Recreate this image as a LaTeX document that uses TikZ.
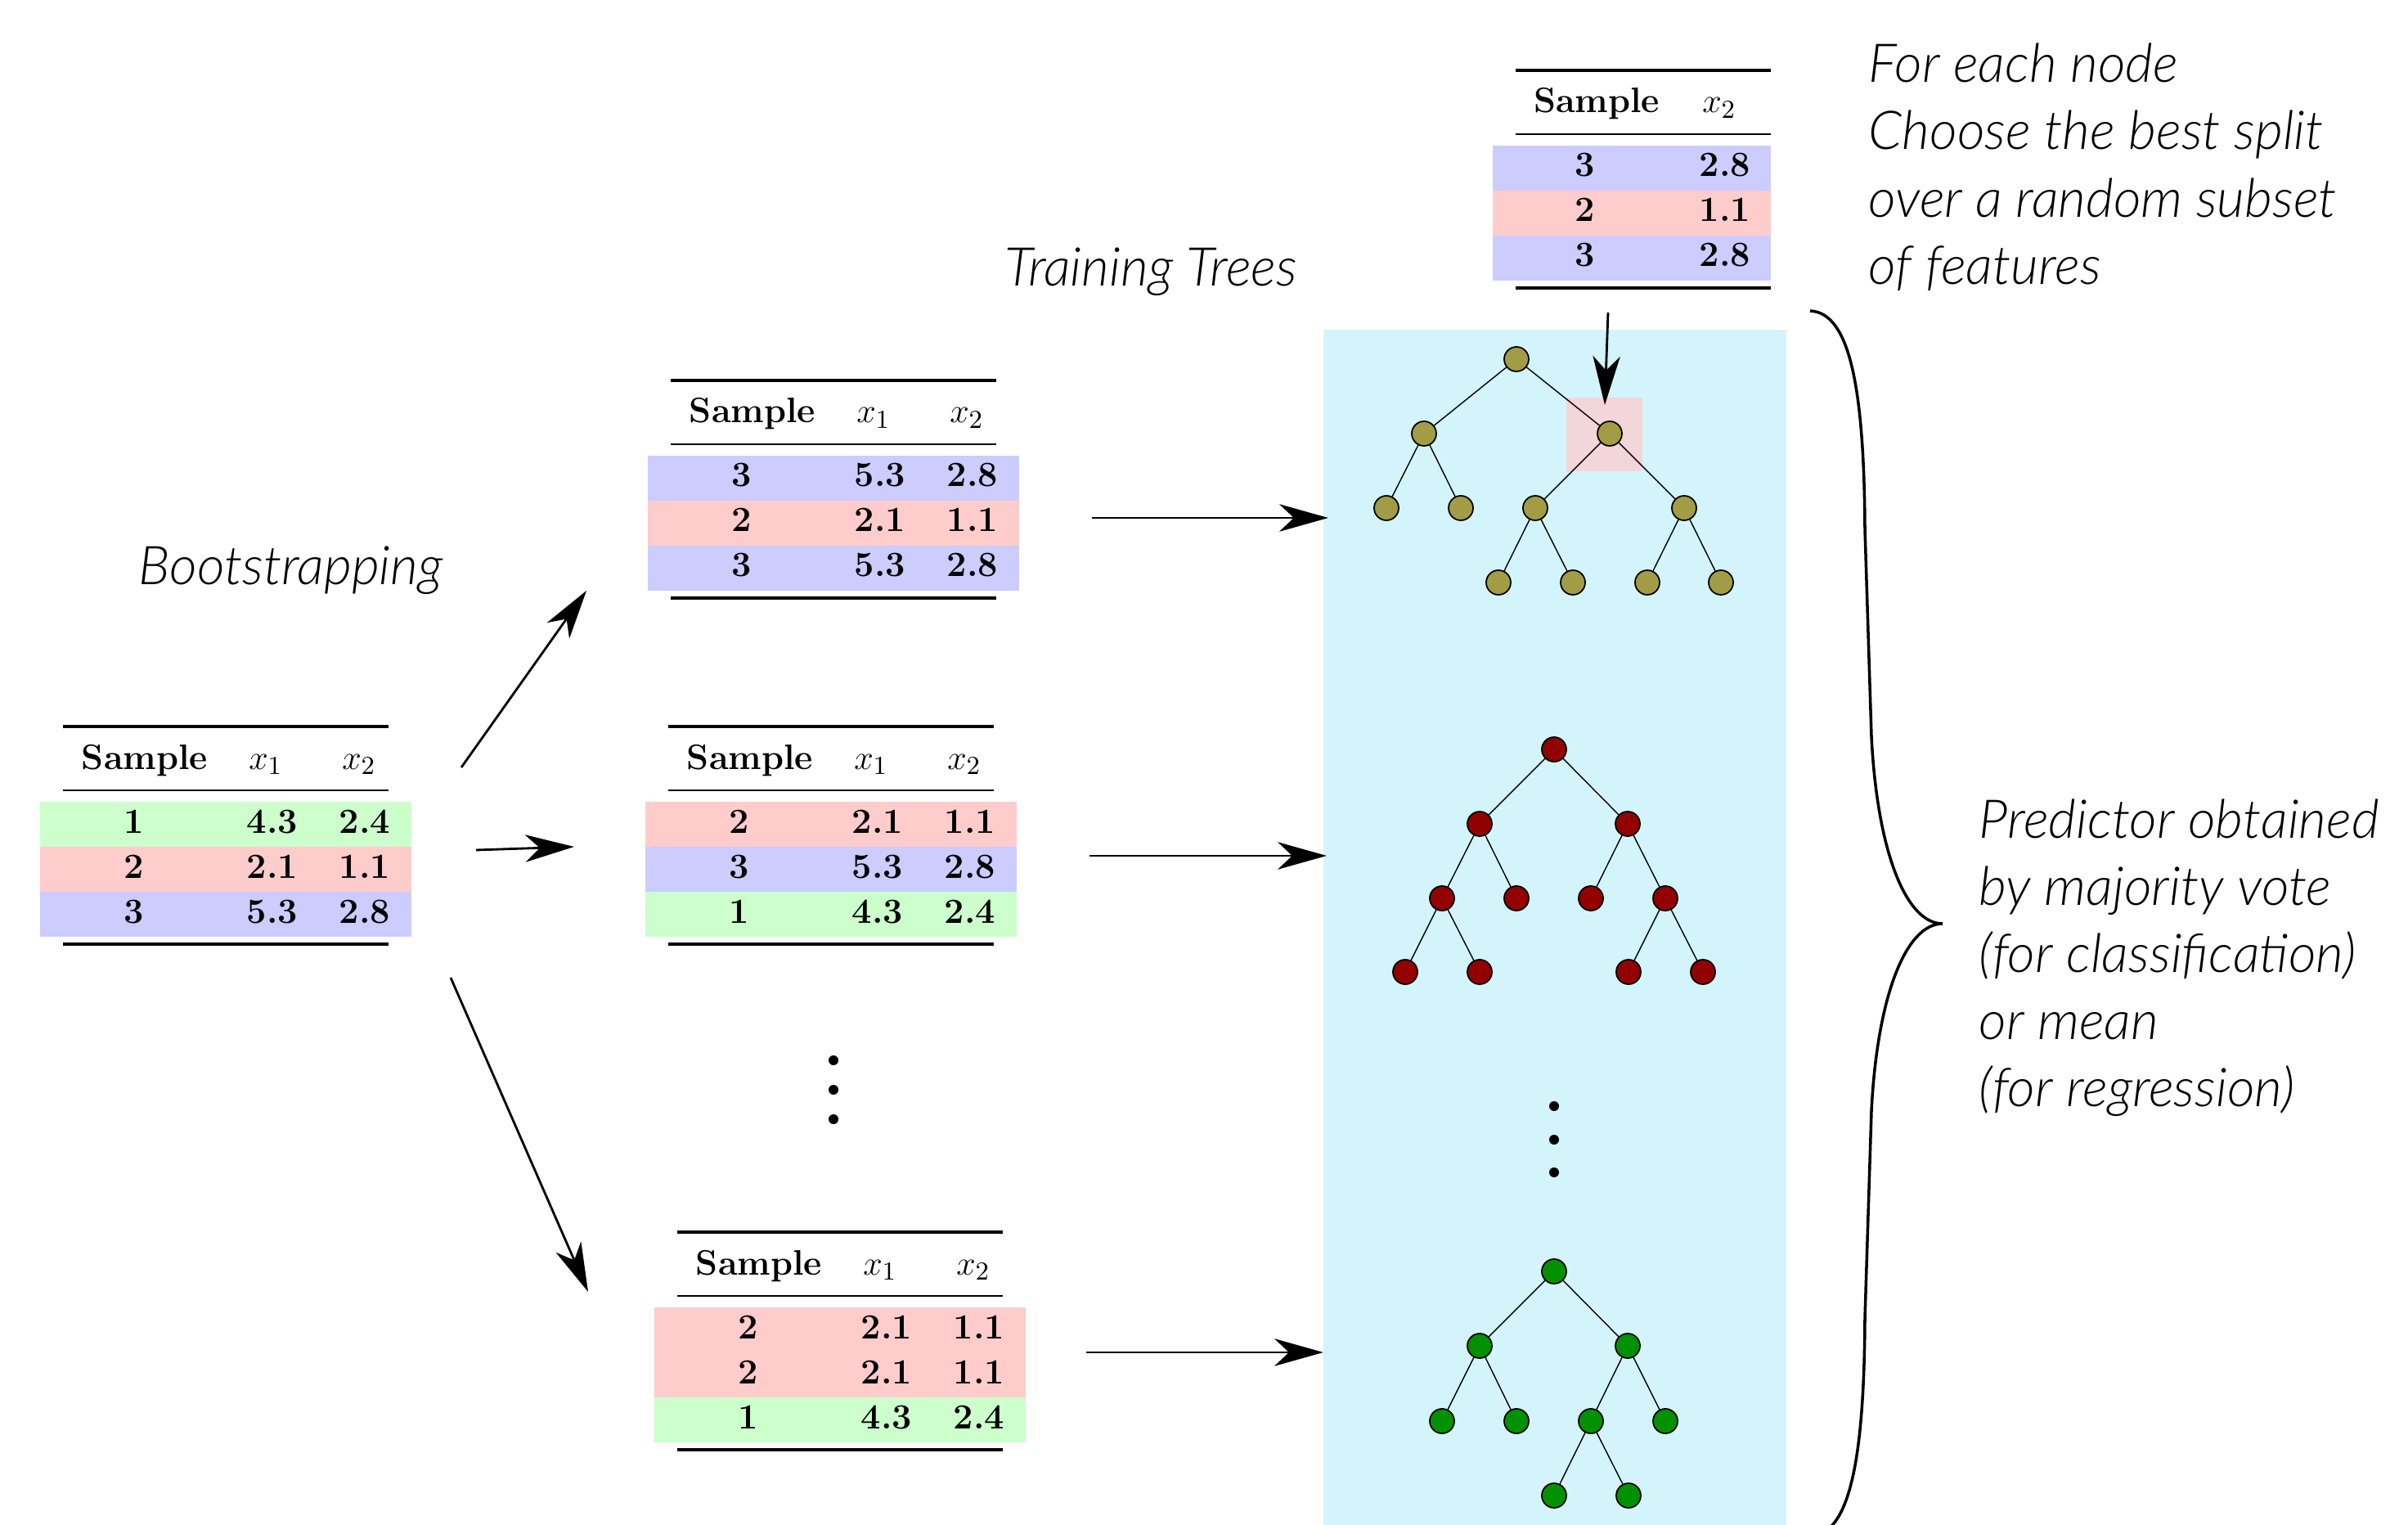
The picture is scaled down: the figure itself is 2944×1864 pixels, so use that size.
\documentclass[tikz,border=0pt]{standalone}
\usepackage{fontspec}
\newfontfamily\lato{Lato Light}[ItalicFont={Lato Light Italic}]
\usetikzlibrary{arrows.meta}
\definecolor{treebg}{RGB}{212,244,252}
\definecolor{hilite}{RGB}{243,214,217}
\definecolor{oliveT}{RGB}{162,156,68}
\definecolor{redT}{RGB}{147,0,0}
\definecolor{greenT}{RGB}{0,145,0}
\definecolor{rowG}{RGB}{204,255,204}
\definecolor{rowR}{RGB}{255,204,204}
\definecolor{rowB}{RGB}{204,204,255}
\tikzset{
 hd/.style={anchor=base, inner sep=0pt, font=\fontsize{12.3}{14}\selectfont\bfseries},
 cell/.style={anchor=base, inner sep=0pt, font=\fontsize{12.3}{14}\selectfont\bfseries},
 heavyrule/.style={line width=0.9pt},
 lightrule/.style={line width=0.55pt},
 lbl/.style={anchor=base west, inner sep=0pt, font=\fontsize{18.6}{22}\selectfont\lato\itshape},
 tn/.style={circle, draw=black, line width=0.5pt, minimum size=0.3cm, inner sep=0pt},
 tedge/.style={line width=0.4pt},
 arr/.style={line width=0.8pt, -{Stealth[length=17pt,width=9.5pt,inset=5pt]}},
 vdot/.style={circle, fill=black, minimum size=0.12cm, inner sep=0pt}
}
% frame of a table: top, mid and bottom rules
\newcommand{\tabframe}[1]{%
 \draw[heavyrule] (0,0) -- (#1,0);
 \draw[lightrule] (0,78) -- (#1,78);
 \draw[heavyrule] (0,266) -- (#1,266);
}
\newcommand{\headthree}[1]{%
 \node[hd] (#1-s) at (100,52) {Sample};
 \node[hd] (#1-x1) at (248,52) {$x_1$};
 \node[hd] (#1-x2) at (362,52) {$x_2$};
}
\newcommand{\rowthree}[6]{%
 \fill[#3] (-28,{92+55*#2}) rectangle (426,{147+55*#2});
 \node[cell] (#1-#2a) at (87,{130+55*#2}) {#4};
 \node[cell] (#1-#2b) at (256,{130+55*#2}) {#5};
 \node[cell] (#1-#2c) at (369,{130+55*#2}) {#6};
}
\newcommand{\rowtwo}[5]{%
 \fill[#3] (-28,{92+55*#2}) rectangle (312,{147+55*#2});
 \node[cell] (#1-#2a) at (85,{130+55*#2}) {#4};
 \node[cell] (#1-#2b) at (256,{130+55*#2}) {#5};
}
\begin{document}
\begin{tikzpicture}[x=0.01cm,y=-0.01cm]
\useasboundingbox (0,0) rectangle (2944,1864);
\clip (0,0) rectangle (2944,1864);
\fill[white] (0,0) rectangle (2944,1864);

% ---- tree panel
\fill[treebg] (1618,403) rectangle (2184,1870);
\fill[hilite] (1915,486) rectangle (2008,576);

% ---- tables
\begin{scope}[shift={(77,888)}]
 \tabframe{398}\headthree{T0}
 \rowthree{T0}{0}{rowG}{1}{4.3}{2.4}
 \rowthree{T0}{1}{rowR}{2}{2.1}{1.1}
 \rowthree{T0}{2}{rowB}{3}{5.3}{2.8}
\end{scope}
\begin{scope}[shift={(820,465)}]
 \tabframe{398}\headthree{TA}
 \rowthree{TA}{0}{rowB}{3}{5.3}{2.8}
 \rowthree{TA}{1}{rowR}{2}{2.1}{1.1}
 \rowthree{TA}{2}{rowB}{3}{5.3}{2.8}
\end{scope}
\begin{scope}[shift={(817,888)}]
 \tabframe{398}\headthree{TB}
 \rowthree{TB}{0}{rowR}{2}{2.1}{1.1}
 \rowthree{TB}{1}{rowB}{3}{5.3}{2.8}
 \rowthree{TB}{2}{rowG}{1}{4.3}{2.4}
\end{scope}
\begin{scope}[shift={(828,1506)}]
 \tabframe{398}\headthree{TC}
 \rowthree{TC}{0}{rowR}{2}{2.1}{1.1}
 \rowthree{TC}{1}{rowR}{2}{2.1}{1.1}
 \rowthree{TC}{2}{rowG}{1}{4.3}{2.4}
\end{scope}
\begin{scope}[shift={(1853,86)}]
 \tabframe{312}
 \node[hd] (TD-s) at (99,52) {Sample};
 \node[hd] (TD-x2) at (249,52) {$x_2$};
 \rowtwo{TD}{0}{rowB}{3}{2.8}
 \rowtwo{TD}{1}{rowR}{2}{1.1}
 \rowtwo{TD}{2}{rowB}{3}{2.8}
\end{scope}

% ---- vertical dots
\node[vdot] (d1) at (1019,1296) {};
\node[vdot] (d2) at (1019,1332) {};
\node[vdot] (d3) at (1019,1368) {};
\node[vdot] (e1) at (1900,1352) {};
\node[vdot] (e2) at (1900,1393) {};
\node[vdot] (e3) at (1900,1433) {};

% ---- tree 1 (olive)
\foreach \n/\x/\y in {a/1854/439, aL/1741/530, aR/1968/530,
  aLL/1695/621, aLR/1786/621, aRL/1877/621, aRR/2059/621,
  aRLL/1832/712, aRLR/1923/712, aRRL/2014/712, aRRR/2104/712}
  \node[tn, fill=oliveT] (\n) at (\x,\y) {};
\foreach \p/\c in {a/aL, a/aR, aL/aLL, aL/aLR, aR/aRL, aR/aRR,
  aRL/aRLL, aRL/aRLR, aRR/aRRL, aRR/aRRR}
  \draw[tedge] (\p) -- (\c);

% ---- tree 2 (red)
\foreach \n/\x/\y in {b/1900/916, bL/1809/1007, bR/1990/1007,
  bLL/1763/1098, bLR/1854/1098, bRL/1945/1098, bRR/2036/1098,
  bLLL/1718/1188, bLLR/1809/1188, bRRL/1991/1188, bRRR/2082/1188}
  \node[tn, fill=redT] (\n) at (\x,\y) {};
\foreach \p/\c in {b/bL, b/bR, bL/bLL, bL/bLR, bR/bRL, bR/bRR,
  bLL/bLLL, bLL/bLLR, bRR/bRRL, bRR/bRRR}
  \draw[tedge] (\p) -- (\c);

% ---- tree 3 (green)
\foreach \n/\x/\y in {c/1900/1554, cL/1809/1645, cR/1990/1645,
  cLL/1763/1737, cLR/1854/1737, cRL/1945/1737, cRR/2036/1737,
  cRLL/1900/1828, cRLR/1991/1828}
  \node[tn, fill=greenT] (\n) at (\x,\y) {};
\foreach \p/\c in {c/cL, c/cR, cL/cLL, cL/cLR, cR/cRL, cR/cRR,
  cRL/cRLL, cRL/cRLR}
  \draw[tedge] (\p) -- (\c);

% ---- arrows
\coordinate (b1s) at (564,938);  \coordinate (b1e) at (717,722);
\coordinate (b2s) at (582,1039); \coordinate (b2e) at (702,1035);
\coordinate (b3s) at (551,1195); \coordinate (b3e) at (719,1579);
\coordinate (t1s) at (1335,633); \coordinate (t1e) at (1624,633);
\coordinate (t2s) at (1332,1046); \coordinate (t2e) at (1622,1046);
\coordinate (t3s) at (1328,1653); \coordinate (t3e) at (1618,1653);
\coordinate (ds) at (1966,382);  \coordinate (de) at (1962,495);
\draw[arr] (b1s) -- (b1e);
\draw[arr] (b2s) -- (b2e);
\draw[arr] (b3s) -- (b3e);
\draw[arr] (t1s) -- (t1e);
\draw[arr] (t2s) -- (t2e);
\draw[arr] (t3s) -- (t3e);
\draw[arr] (ds) -- (de);

% ---- brace
\draw[line width=1pt] (2213,380) .. controls (2262,382) and (2279,476) .. (2280,646)
  -- (2288,900) .. controls (2295,1040) and (2330,1129) .. (2375,1129)
  .. controls (2330,1129) and (2295,1218) .. (2288,1358)
  -- (2280,1612) .. controls (2279,1782) and (2262,1876) .. (2213,1878);

% ---- labels
\node[lbl] (boot) at (169,715) {Bootstrapping};
\node[lbl] (train) at (1228,350) {Training Trees};
\node[lbl] (n1) at (2284,101) {For each node};
\node[lbl] (n2) at (2284,183) {Choose the best split};
\node[lbl] (n3) at (2284,266) {over a random subset};
\node[lbl] (n4) at (2284,348) {of features};
\node[lbl] (p1) at (2419,1024) {Predictor obtained};
\node[lbl] (p2) at (2419,1106) {by majority vote};
\node[lbl] (p3) at (2419,1188) {(for classification)};
\node[lbl] (p4) at (2419,1270) {or mean};
\node[lbl] (p5) at (2419,1352) {(for regression)};
\end{tikzpicture}
\end{document}
